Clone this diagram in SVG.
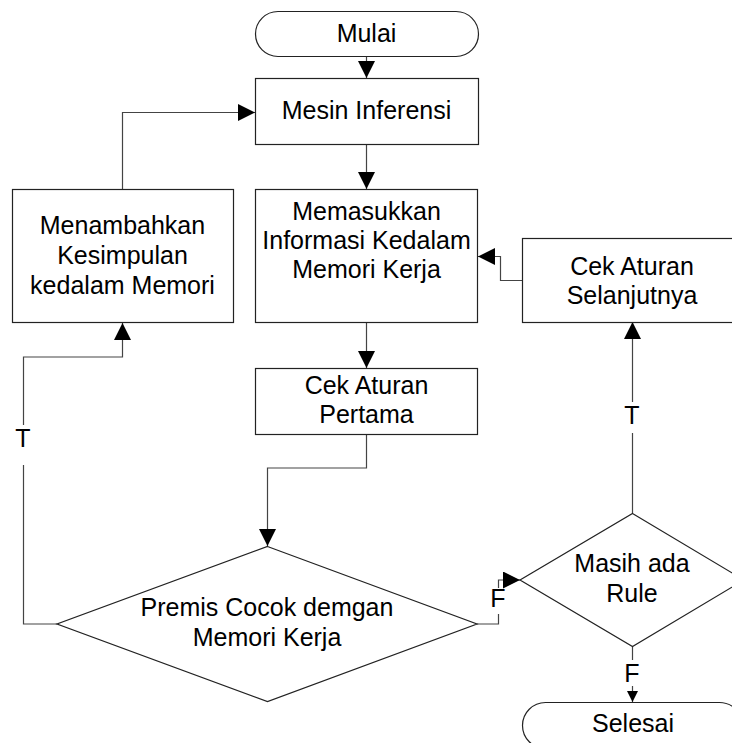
<svg xmlns="http://www.w3.org/2000/svg" width="732" height="743" viewBox="0 0 732 743">
<style>
.s{fill:#fff;stroke:#222;stroke-width:1.2}
.c{fill:none;stroke:#444;stroke-width:1.2}
text{font-family:"Liberation Sans",Arial,sans-serif;font-size:25px;fill:#000;text-anchor:middle}
</style>
<defs>
<marker id="a" markerUnits="userSpaceOnUse" markerWidth="17" markerHeight="17" refX="17" refY="8.5" orient="auto"><path d="M0,0 L17,8.5 L0,17 Z" fill="#000"/></marker>
<marker id="b" markerUnits="userSpaceOnUse" markerWidth="11" markerHeight="11" refX="11" refY="5.5" orient="auto"><path d="M0,0 L11,5.5 L0,11 Z" fill="#000"/></marker>
</defs>
<rect width="732" height="743" fill="#fff"/>
<g id="connectors">
<path class="c" d="M366.5,56 V78" marker-end="url(#a)"/>
<path class="c" d="M366.5,144 V189" marker-end="url(#a)"/>
<path class="c" d="M366.5,323 V368" marker-end="url(#a)"/>
<path class="c" d="M366.5,434 V468 H267.5 V546" marker-end="url(#a)"/>
<path class="c" d="M57,624 H23.5 V465"/>
<path class="c" d="M23.5,425 V357 H122.5 V323" marker-end="url(#a)"/>
<path class="c" d="M122.5,189 V112.5 H255" marker-end="url(#a)"/>
<path class="c" d="M522,280.5 H500.5 V256.5 H478" marker-end="url(#a)"/>
<path class="c" d="M477,624 H498.5 V614"/>
<path class="c" d="M498.5,588 V580 H520" marker-end="url(#a)"/>
<path class="c" d="M632.5,513 V433"/>
<path class="c" d="M632.5,402 V322" marker-end="url(#a)"/>
<path class="c" d="M632.5,646 V660"/>
<path class="c" d="M632.5,686 V702" marker-end="url(#b)"/>
<text x="23" y="447">T</text>
<text x="632" y="424">T</text>
<text x="498" y="607">F</text>
<text x="632" y="682">F</text>
</g>
<g id="mulai">
<rect class="s" x="255.5" y="11.5" width="223" height="45" rx="22.5" ry="22.5"/>
<text x="366.5" y="42">Mulai</text>
</g>
<g id="mesin">
<rect class="s" x="255.5" y="78.5" width="223" height="66"/>
<text x="366.5" y="119">Mesin Inferensi</text>
</g>
<g id="memasukkan">
<rect class="s" x="255.5" y="189.5" width="222" height="133"/>
<text x="366.5" y="220">Memasukkan</text>
<text x="366.5" y="249">Informasi Kedalam</text>
<text x="366.5" y="278">Memori Kerja</text>
</g>
<g id="menambahkan">
<rect class="s" x="12.5" y="189.5" width="221" height="133"/>
<text x="122.5" y="234">Menambahkan</text>
<text x="122.5" y="264">Kesimpulan</text>
<text x="122.5" y="294">kedalam Memori</text>
</g>
<g id="cek-selanjutnya">
<rect class="s" x="522.5" y="238.5" width="220" height="84"/>
<text x="632" y="275">Cek Aturan</text>
<text x="632" y="304">Selanjutnya</text>
</g>
<g id="cek-pertama">
<rect class="s" x="255.5" y="368.5" width="222" height="66"/>
<text x="366.5" y="394">Cek Aturan</text>
<text x="366.5" y="423">Pertama</text>
</g>
<g id="premis">
<polygon class="s" points="267.5,546.5 477,624 267.5,701.5 57,624"/>
<text x="267" y="616">Premis Cocok demgan</text>
<text x="267" y="646">Memori Kerja</text>
</g>
<g id="masih">
<polygon class="s" points="632.5,513.5 744,580 632.5,646.5 520,580"/>
<text x="632" y="572">Masih ada</text>
<text x="632" y="602">Rule</text>
</g>
<g id="selesai">
<rect class="s" x="522.5" y="702.5" width="220" height="46" rx="23" ry="23"/>
<text x="633" y="732">Selesai</text>
</g>
</svg>
